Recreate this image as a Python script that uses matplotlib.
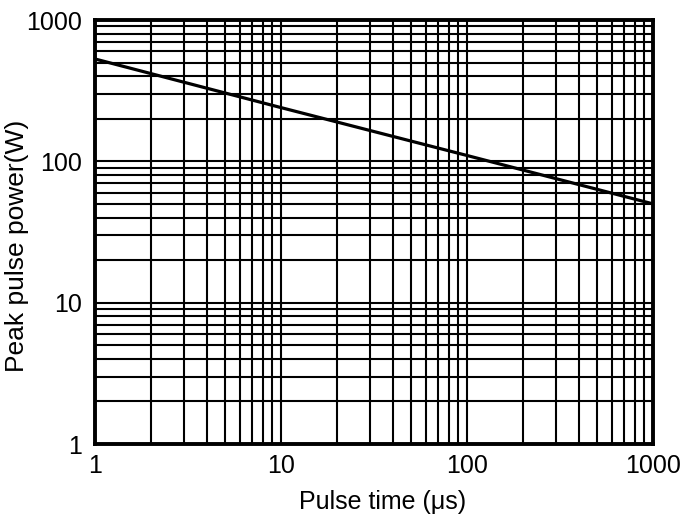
import matplotlib
matplotlib.use("Agg")
import matplotlib.pyplot as plt
from matplotlib.ticker import FixedLocator, FixedFormatter, NullFormatter

plt.rcParams['font.family'] = ['Liberation Sans', 'DejaVu Sans']

# pulse time (us) vs peak pulse power (W)
pulse_time = [1, 10, 100, 1000]
peak_power = [530, 240, 110, 50]

x_ticks = [1, 10, 100, 1000]
x_labels = ["1", "10", "100", "1000"]
y_ticks = [1, 10, 100, 1000]
y_labels = ["1", "10", "100", "1000"]

fig = plt.figure(figsize=(6.84, 5.19), dpi=100)
ax = fig.add_axes([95 / 684, 1 - 444 / 519, (653 - 95) / 684, (444 - 20) / 519])

ax.set_xscale('log')
ax.set_yscale('log')
ax.set_xlim(1, 1000)
ax.set_ylim(1, 1000)

ax.plot(pulse_time, peak_power, color='black', lw=2.3, solid_capstyle='butt', zorder=3)

ax.xaxis.set_major_locator(FixedLocator(x_ticks))
ax.xaxis.set_major_formatter(FixedFormatter(x_labels))
ax.yaxis.set_major_locator(FixedLocator(y_ticks))
ax.yaxis.set_major_formatter(FixedFormatter(y_labels))
ax.xaxis.set_minor_formatter(NullFormatter())
ax.yaxis.set_minor_formatter(NullFormatter())

ax.grid(True, which='both', color='black', lw=1.5)
ax.tick_params(which='both', length=0, labelsize=18)
ax.tick_params(axis='x', pad=7)
ax.tick_params(axis='y', pad=9)
for s in ax.spines.values():
    s.set_linewidth(2.8)

ax.set_xlabel("Pulse time (μs)", fontsize=18, va='center')
ax.set_ylabel("Peak pulse power(W)", fontsize=19, va='center')
ax.xaxis.set_label_coords(0.516, -0.137)
ax.yaxis.set_label_coords(-0.139, 0.467)

fig.savefig("out.png", dpi=100)
